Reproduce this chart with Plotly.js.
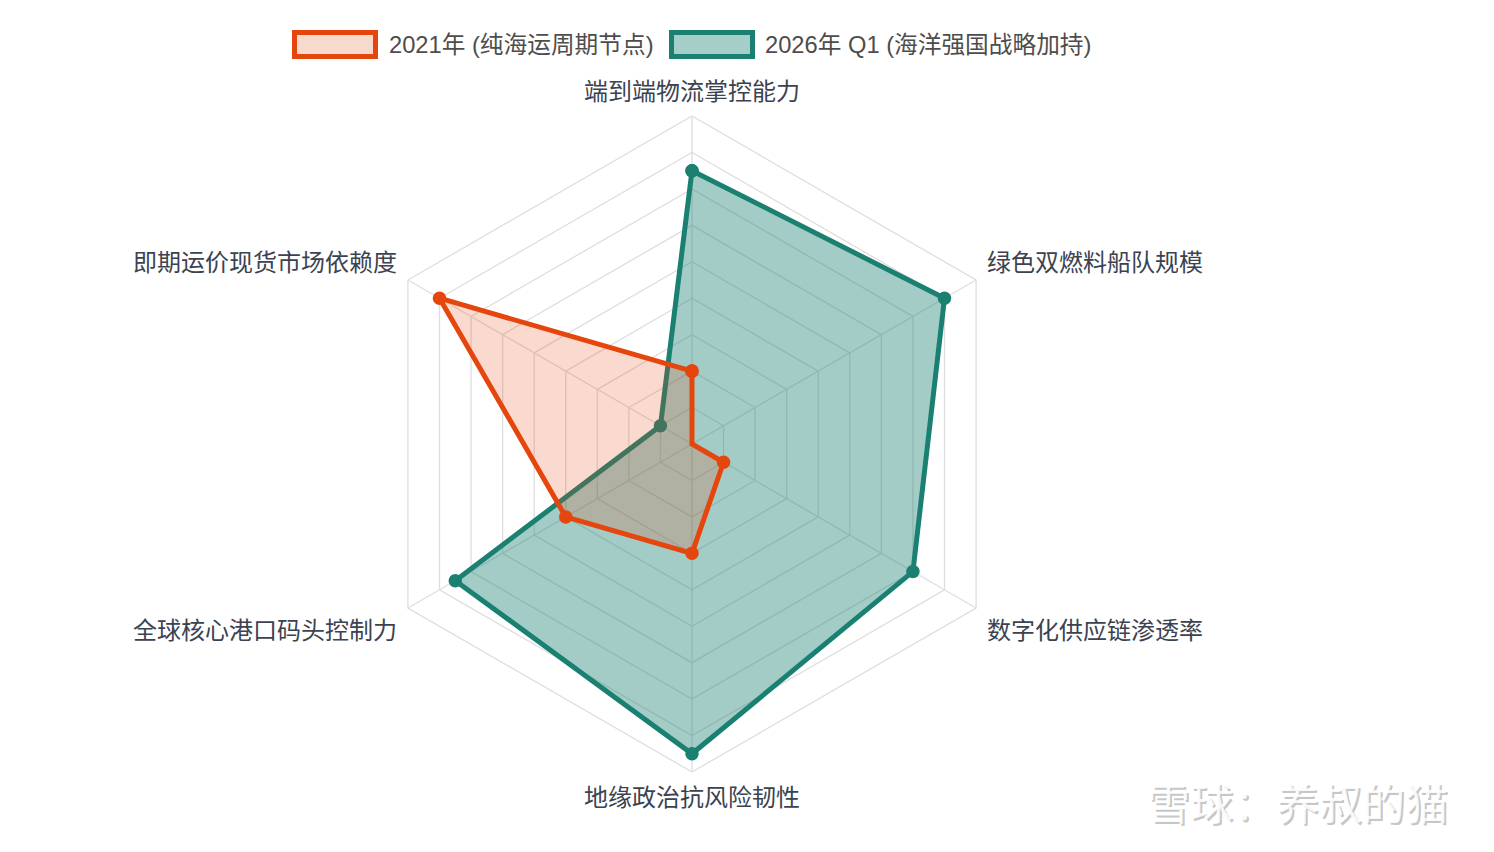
<!DOCTYPE html>
<html>
<head>
<meta charset="utf-8">
<script src="https://cdn.plot.ly/plotly-3.0.1.min.js"></script>
<style>
  html, body { margin: 0; padding: 0; background: #fff; }
  #chart { width: 1494px; height: 852px; }
</style>
</head>
<body>
<div id="chart"></div>
<script>
// scores 1-10
const dimensions = ['端到端物流掌控能力', '绿色双燃料船队规模', '数字化供应链渗透率',
                    '地缘政治抗风险韧性', '全球核心港口码头控制力', '即期运价现货市场依赖度'];
const score2021 = [3, 1, 2, 4, 5, 9];
const score2026 = [8.5, 9, 8, 9.5, 8.5, 2];
const seriesNames = ['2021年 (纯海运周期节点)', '2026年 Q1 (海洋强国战略加持)'];

const W = 1494, H = 852;
const FONT = 'Liberation Sans, Noto Sans CJK SC, sans-serif';
const ORANGE = 'rgb(228,70,14)', ORANGE_FILL = 'rgba(228,70,14,0.2)';
const GREEN = 'rgb(26,128,114)', GREEN_FILL = 'rgba(26,128,114,0.4)';
const GRID = '#dedede';

function closed(a) { return a.concat([a[0]]); }

function series(name, vals, line, fill) {
    return {
        type: 'scatterpolar',
        name: name,
        r: closed(vals),
        theta: closed(dimensions),
        mode: 'lines+markers',
        fill: 'toself',
        fillcolor: fill,
        line: { color: line, width: 5 },
        marker: { color: line, size: 13.5 },
        hoverinfo: 'name+r+theta'
    };
}

// chart.js draws first dataset on top
const data = [
    series(seriesNames[1], score2026, GREEN, GREEN_FILL),
    series(seriesNames[0], score2021, ORANGE, ORANGE_FILL)
];

// centre (692,444), radius 328 px
const cx = 692, cy = 444, R = 328;
const px = x => x / W, py = y => 1 - y / H;

// point labels placed chart.js-style around the hexagon
function pointLabel(text, i) {
    const a = Math.PI / 2 - i * Math.PI / 3;
    const c = Math.cos(a), s = Math.sin(a);
    let x, y, anchor;
    if (Math.abs(c) < 0.01) {
        x = cx; y = cy - s * (R + 25); anchor = 'center';
    } else {
        x = cx + c * R + Math.sign(c) * 9;
        y = cy - s * R - (s > 0 ? 18 : -22);
        anchor = c > 0 ? 'left' : 'right';
    }
    return {
        xref: 'paper', yref: 'paper', x: px(x), y: py(y),
        xanchor: anchor, yanchor: 'middle', showarrow: false, text: text,
        font: { family: FONT, size: 24, color: '#3b4351' }
    };
}

// hand-made legend, chart.js style boxes
function legendBox(x0, color, fill) {
    return {
        type: 'rect', xref: 'paper', yref: 'paper',
        x0: px(x0 + 2.5), x1: px(x0 + 83.5), y0: py(56.5), y1: py(32.5),
        line: { color: color, width: 5 }, fillcolor: fill
    };
}
function legendText(x, text) {
    return {
        xref: 'paper', yref: 'paper', x: px(x), y: py(45),
        xanchor: 'left', yanchor: 'middle', showarrow: false, text: text,
        font: { family: FONT, size: 23.7, color: '#4d4d4d' }
    };
}

const mark = '雪球：养叔的猫';
const annotations = dimensions.map(pointLabel).concat([
    legendText(387, seriesNames[0]),
    legendText(763, seriesNames[1]),
    {
        xref: 'paper', yref: 'paper', x: px(1452), y: py(807),
        xanchor: 'right', yanchor: 'middle', showarrow: false, text: mark,
        font: { family: FONT, size: 43, color: 'rgba(150,150,150,0.55)' }
    },
    {
        xref: 'paper', yref: 'paper', x: px(1450), y: py(805),
        xanchor: 'right', yanchor: 'middle', showarrow: false, text: mark,
        font: { family: FONT, size: 43, color: 'rgba(255,255,255,0.9)' }
    }
]);

const layout = {
    width: W, height: H,
    margin: { l: 0, r: 0, t: 0, b: 0 },
    paper_bgcolor: '#fff',
    showlegend: false,
    font: { family: FONT },
    polar: {
        domain: { x: [px(cx - R), px(cx + R)], y: [py(cy + R), py(cy - R)] },
        bgcolor: 'rgba(0,0,0,0)',
        gridshape: 'linear',
        radialaxis: {
            range: [1, 10], tick0: 1, dtick: 1,
            showticklabels: false, ticks: '', showline: false,
            gridcolor: GRID, gridwidth: 1.3
        },
        angularaxis: {
            rotation: 90, direction: 'clockwise',
            ticks: '', showticklabels: false,
            showline: true, linecolor: GRID, linewidth: 1.3,
            gridcolor: GRID, gridwidth: 1.3
        }
    },
    shapes: [
        legendBox(292, ORANGE, 'rgba(248,217,205,1)'),
        legendBox(669, GREEN, 'rgba(165,206,200,1)')
    ],
    annotations: annotations
};

Plotly.newPlot('chart', data, layout, { displayModeBar: false, staticPlot: true });
</script>
</body>
</html>
